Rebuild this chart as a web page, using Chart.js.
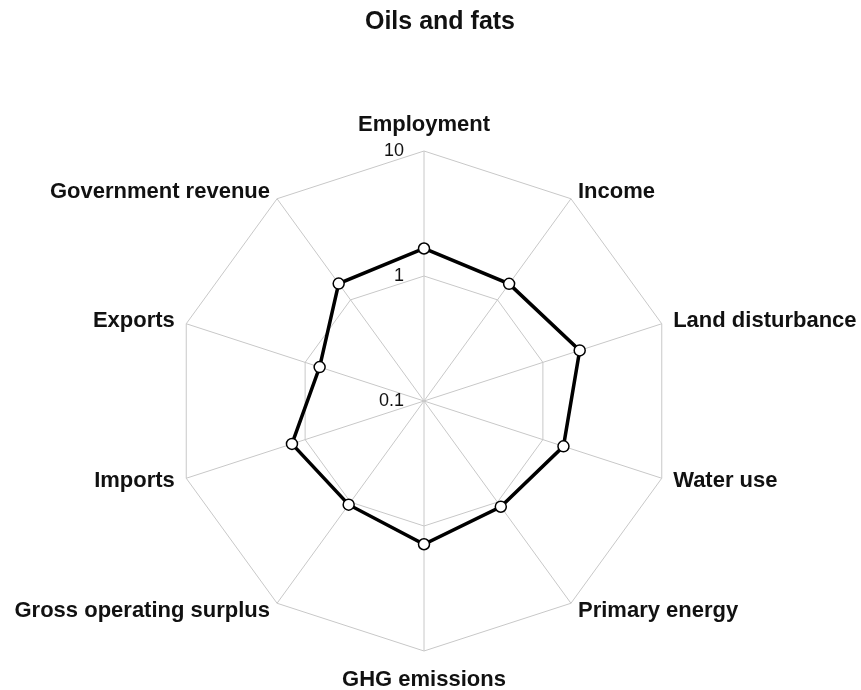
<!DOCTYPE html>
<html>
<head>
<meta charset="utf-8">
<title>Oils and fats</title>
<script src="https://cdn.jsdelivr.net/npm/chart.js@4.4.0/dist/chart.umd.min.js"></script>
<style>
  html, body { margin: 0; padding: 0; background: #fff; }
  #wrap { width: 861px; height: 690px; }
</style>
</head>
<body>
<div id="wrap"><canvas id="radarChart" width="861" height="690"></canvas></div>
<script>
// axes, clockwise from the top
const categories = ['Employment', 'Income', 'Land disturbance', 'Water use', 'Primary energy',
    'GHG emissions', 'Gross operating surplus', 'Imports', 'Exports', 'Government revenue'];
// values (0.1 .. 10)
const values = [1.66, 1.44, 2.04, 1.49, 1.11, 1.40, 1.06, 1.29, 0.755, 1.45];
const tickValues = [0.1, 1, 10];
const tickLabels = ['0.1', '1', '10'];
const chartTitle = 'Oils and fats';

const FONT = '"Liberation Sans", Arial, Helvetica, sans-serif';

// radialLinear has no log option, so plot log10 of each value
const logData = values.map(v => Math.log10(v));

const labelPlugin = {
    id: 'labelPlugin',
    afterDraw(chart) {
        const scale = chart.scales.r;
        const ctx = chart.ctx;
        const R = scale.drawingArea;
        ctx.save();
        ctx.fillStyle = '#111';

        // title sits a little right of the plot centre
        ctx.font = 'bold 25px ' + FONT;
        ctx.textAlign = 'center';
        ctx.textBaseline = 'middle';
        ctx.fillText(chartTitle, scale.xCenter + 16, 22);

        // tick labels, left of the vertical axis
        ctx.font = '18px ' + FONT;
        ctx.textAlign = 'right';
        tickValues.forEach((v, i) => {
            const d = scale.getDistanceFromCenterForValue(Math.log10(v));
            ctx.fillText(tickLabels[i], scale.xCenter - 20, scale.yCenter - d);
        });

        // axis names
        ctx.font = 'bold 22px ' + FONT;
        categories.forEach((name, i) => {
            const px = scale.getPointPosition(i, R + 12);
            const py = scale.getPointPosition(i, R + 9);
            const dx = px.x - scale.xCenter;
            if (Math.abs(dx) < 1) {
                const top = px.y < scale.yCenter;
                const pos = scale.getPointPosition(i, top ? R + 26 : R + 29);
                ctx.textAlign = 'center';
                ctx.fillText(name, pos.x, pos.y);
            } else {
                ctx.textAlign = dx > 0 ? 'left' : 'right';
                ctx.fillText(name, px.x, py.y);
            }
        });
        ctx.restore();
    }
};

new Chart(document.getElementById('radarChart'), {
    type: 'radar',
    data: {
        labels: categories,
        datasets: [{
            label: chartTitle,
            data: logData,
            fill: false,
            clip: false,
            borderColor: '#000',
            borderWidth: 3.5,
            pointRadius: 5.5,
            pointBackgroundColor: '#fff',
            pointBorderColor: '#000',
            pointBorderWidth: 1.5
        }]
    },
    options: {
        responsive: false,
        animation: false,
        layout: { padding: { left: 100, right: 112, top: 151.5, bottom: 38.5 } },
        plugins: {
            legend: { display: false },
            tooltip: { enabled: false },
            title: { display: false }
        },
        scales: {
            r: {
                min: -1,
                max: 1,
                ticks: { display: false, stepSize: 1 },
                pointLabels: { display: false },
                grid: { color: '#c8c8c8', lineWidth: 1 },
                angleLines: { color: '#c8c8c8', lineWidth: 1 }
            }
        }
    },
    plugins: [labelPlugin]
});
</script>
</body>
</html>
